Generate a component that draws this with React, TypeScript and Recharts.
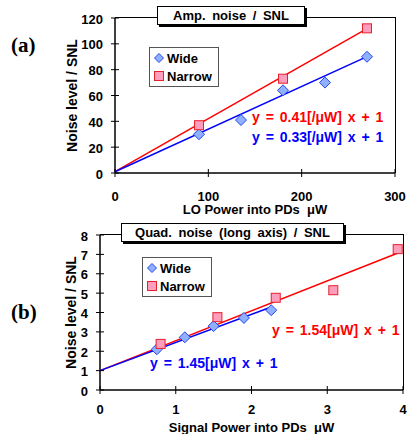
import { ScatterChart, Scatter, XAxis, YAxis, Label } from "recharts";

// (a) amplitude noise vs LO power
const ampWideX = [90, 135, 180, 225, 270];
const ampWideY = [30, 41, 64, 70, 90];
const ampNarrowX = [90, 180, 270];
const ampNarrowY = [37, 73, 112];
const ampWideFitX = [0, 270];
const ampWideFitY = [1, 90.1];
const ampNarrowFitX = [0, 270];
const ampNarrowFitY = [1, 111.7];
const ampXTicks = [0, 100, 200, 300];
const ampYTicks = [0, 20, 40, 60, 80, 100, 120];

// (b) quadrature noise vs signal power
const quadWideX = [0.75, 1.12, 1.5, 1.9, 2.26];
const quadWideY = [2.1, 2.72, 3.3, 3.72, 4.12];
const quadNarrowX = [0.8, 1.55, 2.32, 3.08, 3.93];
const quadNarrowY = [2.38, 3.76, 4.76, 5.15, 7.27];
const quadWideFitX = [0, 2.27];
const quadWideFitY = [1, 4.3];
const quadNarrowFitX = [0, 3.95];
const quadNarrowFitY = [1, 7.1];
const quadXTicks = [0, 1, 2, 3, 4];
const quadYTicks = [0, 1, 2, 3, 4, 5, 6, 7, 8];

const zip = (xs: number[], ys: number[]) => xs.map((x, i) => ({ x, y: ys[i] }));

const RED = "#ff0000";
const BLUE = "#0000ff";
const FONT = "'Liberation Sans', Arial, sans-serif";
const txt = { fontSize: 13, fontWeight: 700, fill: "#000", fontFamily: FONT };

const Diamond = (p: any) => {
  const r = p.r ?? 5.5;
  return (
    <path
      d={`M${p.cx},${p.cy - r}L${p.cx + r},${p.cy}L${p.cx},${p.cy + r}L${p.cx - r},${p.cy}Z`}
      fill="#8fb0ff"
      stroke="#2848e8"
      strokeWidth={1}
    />
  );
};

const Square = (p: any) => {
  const h = p.h ?? 4.5;
  return (
    <rect x={p.cx - h} y={p.cy - h} width={h * 2} height={h * 2} fill="#ff9dbd" stroke="#e8202c" strokeWidth={1} />
  );
};

const NoShape = () => <g />;

// cross-style ticks like the Excel original
const makeXTick = (labelDy: number) => (p: any) => (
  <g>
    <line x1={p.x} x2={p.x} y1={p.y - 4} y2={p.y + 4} stroke="#000" />
    <text x={p.x} y={p.y + labelDy} textAnchor="middle" style={txt}>
      {p.payload.value}
    </text>
  </g>
);

const YTick = (p: any) => (
  <g>
    <line x1={p.x - 4} x2={p.x + 4} y1={p.y} y2={p.y} stroke="#000" />
    <text x={p.x - 12} y={p.y + 5.5} textAnchor="end" style={txt}>
      {p.payload.value}
    </text>
  </g>
);

const yLabel = (text: string, cx: number) => (props: any) => {
  const vb = props.viewBox;
  const cy = vb.y + vb.height / 2;
  return (
    <text
      x={cx}
      y={cy}
      transform={`rotate(-90 ${cx} ${cy})`}
      textAnchor="middle"
      dominantBaseline="central"
      style={{ fontSize: 14, fontWeight: 700, fontFamily: FONT }}
    >
      {text}
    </text>
  );
};

const xLabel = (text: string, dy: number) => (props: any) => {
  const vb = props.viewBox;
  return (
    <text x={vb.x + vb.width / 2} y={vb.y + dy} textAnchor="middle" style={txt}>
      {text}
    </text>
  );
};

// top + right edge of the plot box
function FrameEdges({ left, top, width, height }: { left: number; top: number; width: number; height: number }) {
  return (
    <div
      style={{
        position: "absolute",
        left,
        top,
        width,
        height,
        boxSizing: "border-box",
        borderTop: "1.5px solid #000",
        borderRight: "1.5px solid #000",
        pointerEvents: "none",
      }}
    />
  );
}

function TitleBox({ text, left, top, width }: { text: string; left: number; top: number; width: number }) {
  return (
    <div
      style={{
        position: "absolute",
        left,
        top,
        width,
        height: 17,
        border: "1.5px solid #000",
        boxShadow: "2px 2px 0 #000",
        background: "#fff",
        fontSize: 13,
        fontWeight: 700,
        textAlign: "center",
        lineHeight: "17px",
        wordSpacing: 3,
        whiteSpace: "pre",
      }}
    >
      {text}
    </div>
  );
}

function LegendBox({ left, top }: { left: number; top: number }) {
  return (
    <div
      style={{
        position: "absolute",
        left,
        top,
        width: 68,
        height: 38,
        border: "1px solid #555",
        background: "#fff",
        fontSize: 13,
        fontWeight: 700,
      }}
    >
      <div style={{ position: "absolute", left: 3, top: 2, display: "flex", alignItems: "center" }}>
        <svg width={12} height={16}>
          <Diamond cx={6} cy={8} r={4.5} />
        </svg>
        <span style={{ marginLeft: 2 }}>Wide</span>
      </div>
      <div style={{ position: "absolute", left: 3, top: 20, display: "flex", alignItems: "center" }}>
        <svg width={12} height={16}>
          <Square cx={6} cy={8} h={4.5} />
        </svg>
        <span style={{ marginLeft: 2 }}>Narrow</span>
      </div>
    </div>
  );
}

const eqStyle = (color: string, left: number, top: number) => ({
  position: "absolute" as const,
  left,
  top,
  color,
  fontSize: 14,
  fontWeight: 700,
  whiteSpace: "pre" as const,
  wordSpacing: 2,
});

const axisLine = { stroke: "#000", strokeWidth: 1.5 };

export default function App() {
  return (
    <div style={{ position: "absolute", left: 0, top: 0, width: 407, height: 434, fontFamily: FONT, background: "#fff", overflow: "hidden" }}>
      {/* panel (a) */}
      <div style={{ position: "absolute", left: 0, top: 0 }}>
        <ScatterChart width={407} height={217} margin={{ top: 18, right: 12, bottom: 14, left: 55 }}>
          <XAxis
            type="number"
            dataKey="x"
            domain={[0, 300]}
            ticks={ampXTicks}
            interval={0}
            tick={makeXTick(27.5)}
            tickLine={false}
            tickSize={0}
            tickMargin={0}
            height={30}
            axisLine={axisLine}
          >
            <Label content={xLabel("LO Power into PDs\u00a0\u00a0μW", 41)} />
          </XAxis>
          <YAxis
            type="number"
            dataKey="y"
            domain={[0, 120]}
            ticks={ampYTicks}
            interval={0}
            tick={YTick}
            tickLine={false}
            tickSize={0}
            tickMargin={0}
            width={60}
            axisLine={axisLine}
          >
            <Label content={yLabel("Noise level / SNL", 72)} />
          </YAxis>
          <Scatter data={zip(ampNarrowFitX, ampNarrowFitY)} line={{ stroke: RED, strokeWidth: 1.5 }} shape={NoShape} isAnimationActive={false} />
          <Scatter data={zip(ampWideFitX, ampWideFitY)} line={{ stroke: BLUE, strokeWidth: 1.5 }} shape={NoShape} isAnimationActive={false} />
          <Scatter data={zip(ampWideX, ampWideY)} shape={Diamond} isAnimationActive={false} />
          <Scatter data={zip(ampNarrowX, ampNarrowY)} shape={Square} isAnimationActive={false} />
        </ScatterChart>
        <FrameEdges left={115} top={17} width={281} height={156} />
        <TitleBox text="Amp. noise / SNL" left={157} top={6} width={146} />
        <LegendBox left={149} top={47} />
        <div style={eqStyle(RED, 252, 109)}>{"y = 0.41[/μW] x + 1"}</div>
        <div style={eqStyle(BLUE, 252, 129)}>{"y = 0.33[/μW] x + 1"}</div>
        <div style={{ position: "absolute", left: 11, top: 33, fontFamily: "'Liberation Serif', serif", fontWeight: 700, fontSize: 21 }}>
          (a)
        </div>
      </div>

      {/* panel (b) */}
      <div style={{ position: "absolute", left: 0, top: 217 }}>
        <ScatterChart width={407} height={217} margin={{ top: 18, right: 4, bottom: 14, left: 40 }}>
          <XAxis
            type="number"
            dataKey="x"
            domain={[0, 4]}
            ticks={quadXTicks}
            interval={0}
            tick={makeXTick(24)}
            tickLine={false}
            tickSize={0}
            tickMargin={0}
            height={30}
            axisLine={axisLine}
          >
            <Label content={xLabel("Signal Power into PDs\u00a0\u00a0μW", 41.5)} />
          </XAxis>
          <YAxis
            type="number"
            dataKey="y"
            domain={[0, 8]}
            ticks={quadYTicks}
            interval={0}
            tick={YTick}
            tickLine={false}
            tickSize={0}
            tickMargin={0}
            width={60}
            axisLine={axisLine}
          >
            <Label content={yLabel("Noise level / SNL", 71)} />
          </YAxis>
          <Scatter data={zip(quadNarrowFitX, quadNarrowFitY)} line={{ stroke: RED, strokeWidth: 1.5 }} shape={NoShape} isAnimationActive={false} />
          <Scatter data={zip(quadWideFitX, quadWideFitY)} line={{ stroke: BLUE, strokeWidth: 1.5 }} shape={NoShape} isAnimationActive={false} />
          <Scatter data={zip(quadWideX, quadWideY)} shape={Diamond} isAnimationActive={false} />
          <Scatter data={zip(quadNarrowX, quadNarrowY)} shape={Square} isAnimationActive={false} />
        </ScatterChart>
        <FrameEdges left={100} top={17} width={304} height={156} />
        <TitleBox text="Quad. noise (long axis) / SNL" left={121} top={6} width={221} />
        <LegendBox left={142} top={40} />
        <div style={eqStyle(RED, 272, 105)}>{"y = 1.54[μW] x + 1"}</div>
        <div style={eqStyle(BLUE, 150, 138)}>{"y = 1.45[μW] x + 1"}</div>
        <div style={{ position: "absolute", left: 11, top: 83, fontFamily: "'Liberation Serif', serif", fontWeight: 700, fontSize: 21 }}>
          (b)
        </div>
      </div>
    </div>
  );
}
